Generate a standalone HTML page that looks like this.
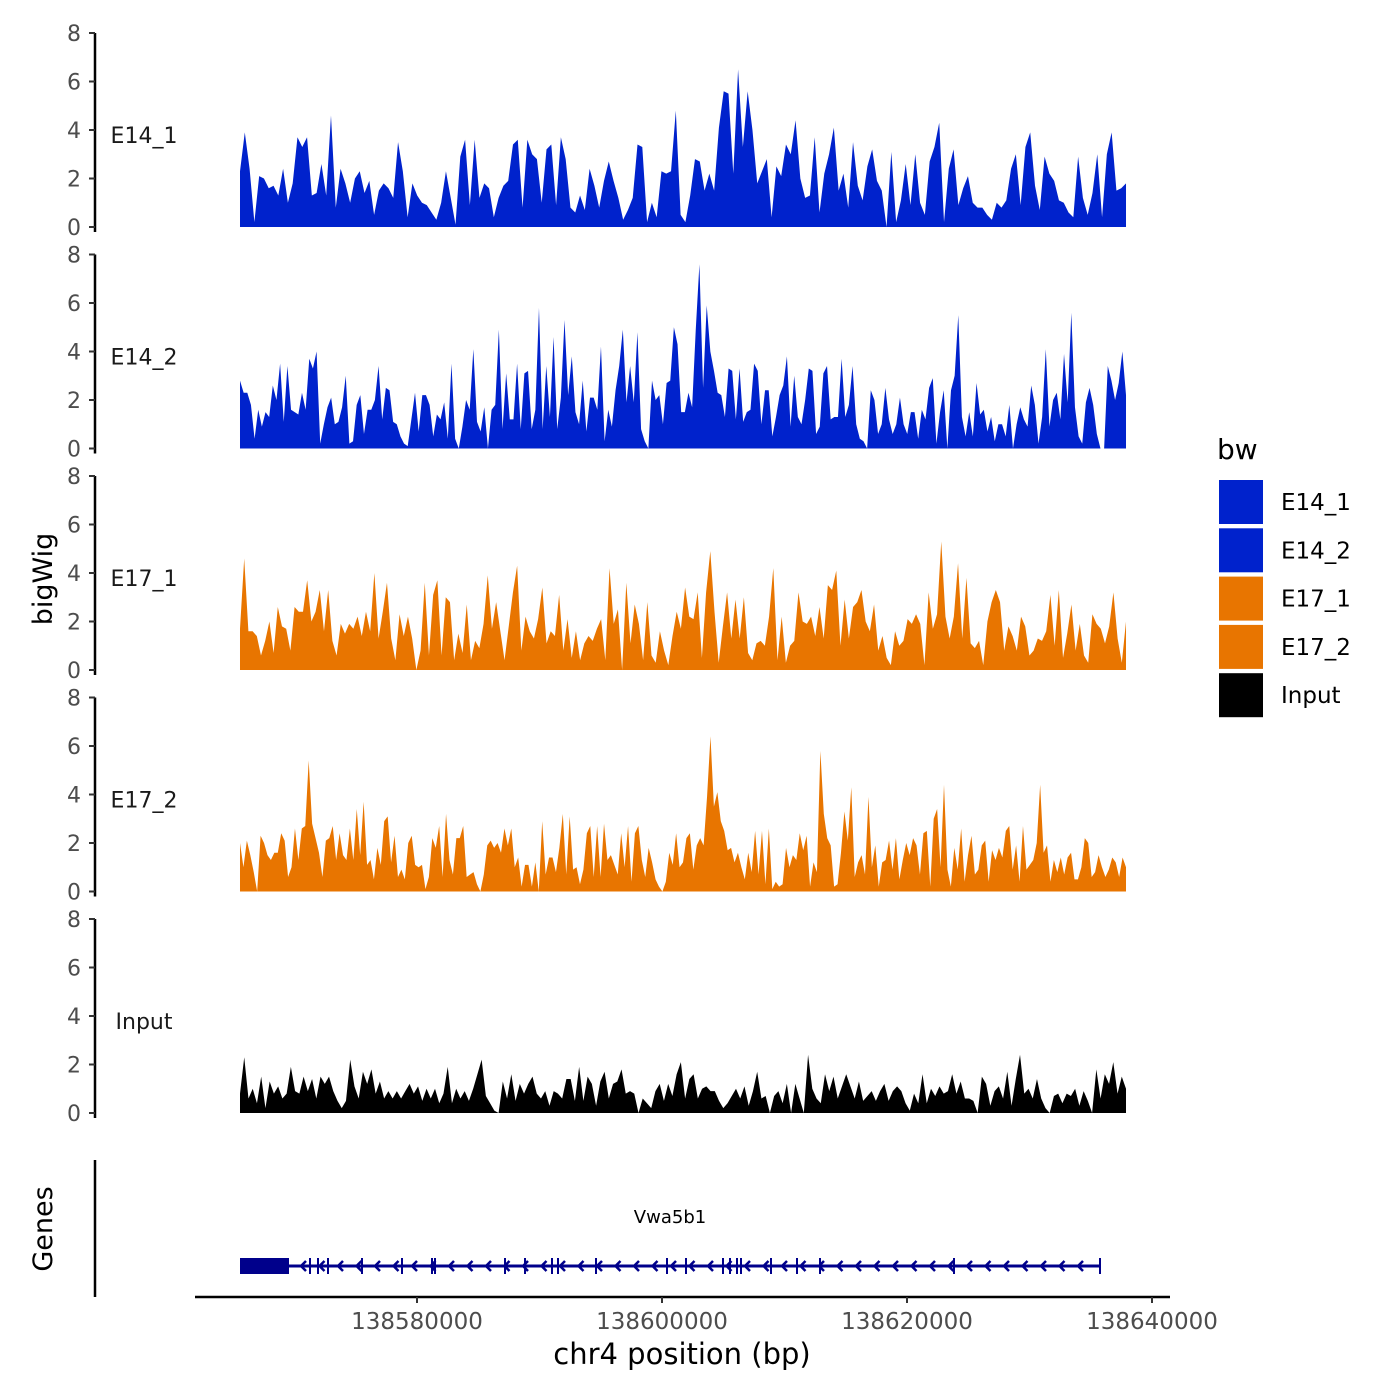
<!DOCTYPE html>
<html><head><meta charset="utf-8"><style>
html,body{margin:0;padding:0;background:#fff}
svg{display:block;font-family:"DejaVu Sans","Liberation Sans",sans-serif}
</style></head><body>
<svg id="chart" width="1400" height="1400" viewBox="0 0 1400 1400" xmlns="http://www.w3.org/2000/svg">
<g id="tracks"></g>
<g id="genes"></g>
<g id="xaxis"></g>
<text x="52" y="579" font-size="27" text-anchor="middle" transform="rotate(-90 52 579)">bigWig</text>
<text x="52" y="1229" font-size="27" text-anchor="middle" transform="rotate(-90 52 1229)">Genes</text>
<text x="682" y="1364" font-size="29" text-anchor="middle">chr4 position (bp)</text>
<g id="legend"></g>
</svg>
<script>
const trackNames = ["E14_1","E14_2","E17_1","E17_2","Input"];
const trackColors = ["#0022cc","#0022cc","#e87500","#e87500","#000000"];
const yTicks = [0,2,4,6,8];
const xTicks = [138580000,138600000,138620000,138640000];
const xStart = 138565551, xEnd = 138637878;
const e14_1 = [2.3,3.9,2.4,0.2,2.1,2.0,1.6,1.7,1.3,2.4,1.0,1.8,3.7,3.3,3.7,1.3,1.4,2.6,1.3,4.6,0.8,2.4,1.8,1.0,2.0,2.3,1.4,1.9,0.5,1.5,1.8,1.6,1.2,3.5,2.3,0.4,1.8,1.3,1.0,0.9,0.6,0.3,1.0,2.3,1.2,0.1,2.9,3.6,0.9,3.6,1.2,1.8,1.6,0.4,1.2,1.7,1.9,3.4,3.6,0.8,3.6,3.0,2.8,1.0,3.2,3.4,0.9,3.7,2.8,0.8,0.6,1.3,0.7,2.4,1.7,0.8,1.9,2.7,1.9,1.2,0.3,0.7,1.2,3.4,3.3,0.2,1.0,0.4,2.3,2.2,2.3,4.8,0.5,0.2,1.3,2.8,2.7,1.5,2.2,1.5,4.1,5.6,5.5,2.2,6.5,3.3,5.6,4.0,1.8,2.3,2.8,0.4,2.5,2.1,3.4,3.0,4.4,2.0,1.2,1.3,3.7,0.6,2.2,3.0,4.1,1.5,2.2,0.8,3.5,1.7,1.1,2.5,3.2,1.9,1.5,0.0,3.1,0.2,1.1,2.6,0.9,3.0,1.0,0.5,2.7,3.3,4.3,0.2,2.4,3.2,0.9,1.6,2.1,1.0,0.8,0.8,0.5,0.3,1.0,0.8,1.1,2.4,3.0,0.9,3.3,3.9,1.7,0.7,2.9,2.2,1.9,1.1,1.0,0.6,0.4,2.9,1.2,0.5,1.4,3.0,0.4,3.0,3.9,1.5,1.6,1.8];
const e14_2 = [2.8,2.3,2.3,1.8,0.4,1.6,0.9,1.5,1.3,2.6,2.0,3.5,1.1,3.4,1.6,1.5,1.4,2.3,1.6,3.7,3.3,4.0,0.2,1.0,1.7,2.1,1.0,1.1,1.7,3.0,0.2,0.3,1.8,2.2,0.6,1.6,1.6,2.0,3.4,1.2,2.5,2.4,1.1,1.0,0.5,0.2,0.1,1.2,2.3,0.7,2.2,2.2,1.8,0.5,1.4,1.2,1.9,0.4,3.5,0.4,0.0,0.9,2.0,1.6,4.1,1.1,0.7,1.7,0.0,1.6,1.8,4.9,0.8,3.1,1.2,1.2,3.5,0.8,3.1,3.2,0.8,1.6,5.8,0.8,3.4,1.3,4.6,0.8,2.1,5.3,2.2,3.8,1.5,1.0,2.8,0.7,2.1,2.1,1.6,4.2,0.3,1.6,0.9,2.4,3.4,4.9,1.9,3.4,1.9,4.8,0.8,0.3,0.0,2.8,2.0,2.2,1.0,2.7,2.8,5.0,4.3,1.5,1.5,2.3,1.7,4.9,7.6,2.5,5.9,4.0,3.2,2.3,2.2,1.3,3.3,3.2,1.2,3.3,1.1,1.5,1.6,3.5,3.2,1.0,2.4,2.4,0.5,1.3,2.2,2.6,3.8,0.9,3.0,1.3,1.0,2.0,3.3,3.2,0.6,0.9,3.1,3.4,1.2,1.3,1.3,3.7,1.3,1.8,3.4,1.0,0.4,0.3,0.0,2.4,2.0,0.6,1.0,2.5,1.2,0.6,1.0,2.1,1.0,0.6,1.5,1.5,0.4,1.6,1.2,2.5,2.9,0.2,1.5,2.4,0.0,2.4,3.0,5.5,1.3,0.5,1.5,0.5,2.7,1.4,1.6,0.7,1.3,0.3,1.0,1.0,0.5,1.8,0.0,1.0,1.7,1.2,0.9,2.6,1.8,0.2,1.3,4.1,0.9,2.0,2.3,1.2,3.9,1.9,5.6,1.7,0.5,0.2,1.9,2.5,1.8,0.6,0.0,0.0,3.4,2.8,2.0,2.7,4.0,2.2];
const e17_1 = [1.7,4.6,1.6,1.6,1.4,0.6,1.2,2.0,0.7,2.6,1.8,1.7,0.8,2.6,2.4,2.4,3.7,2.0,2.4,3.3,1.6,3.3,1.2,0.6,1.9,1.5,1.9,1.7,2.2,1.4,2.4,1.6,4.0,1.3,2.4,3.6,1.3,0.4,2.3,1.4,2.2,1.3,0.0,0.8,3.6,0.6,3.1,3.7,0.6,3.0,2.8,0.4,1.5,0.7,2.7,0.4,1.2,0.9,1.9,3.9,1.7,2.8,1.6,0.4,1.8,3.2,4.3,0.8,2.2,1.6,1.3,2.1,3.4,1.1,1.6,1.4,3.1,0.8,2.1,0.5,1.6,0.4,1.1,1.4,1.2,1.7,2.1,0.4,4.2,1.9,2.5,0.0,3.6,1.1,2.7,1.9,0.4,2.8,0.6,0.3,1.6,0.8,0.2,1.4,2.4,1.7,3.4,2.2,2.1,3.2,0.5,3.2,4.9,2.4,0.3,1.8,3.2,1.3,2.9,1.3,3.0,0.7,0.4,1.1,1.2,1.0,2.2,4.2,0.4,2.2,0.3,1.0,1.2,3.2,2.0,1.9,2.2,1.4,2.6,1.3,3.5,3.3,4.1,1.0,2.9,1.3,2.6,2.8,3.3,2.0,1.6,2.7,0.8,1.4,0.5,0.2,1.6,1.0,1.2,2.1,1.9,2.3,1.9,0.2,3.2,1.7,2.3,5.3,2.2,1.3,2.2,4.4,1.3,3.8,1.1,0.9,1.2,0.2,2.0,2.8,3.3,2.8,0.8,1.8,1.4,0.8,2.2,1.8,0.6,0.8,1.3,1.2,1.6,3.1,1.0,3.3,0.5,1.5,2.7,0.8,1.9,0.6,0.3,2.3,1.9,1.7,1.1,1.8,3.2,1.3,0.3,2.0];
const e17_2 = [2.0,1.0,2.1,1.5,0.8,0.0,2.3,2.0,1.5,1.3,1.6,1.6,2.4,2.1,0.6,1.0,2.6,1.3,2.6,2.7,5.4,2.8,2.2,1.6,0.6,2.1,2.2,2.7,1.3,2.4,1.5,1.3,2.6,1.3,3.4,1.5,3.7,1.1,1.3,0.5,1.8,1.1,2.9,3.1,1.2,2.3,0.6,0.9,0.5,2.0,2.3,1.1,1.0,1.1,0.1,0.6,2.2,1.8,2.7,0.6,3.2,1.3,0.7,2.2,2.2,2.7,0.6,0.7,0.8,0.3,0.0,0.7,1.9,2.1,1.8,2.0,1.6,2.6,1.9,2.6,1.0,1.4,0.2,1.1,1.1,0.2,1.2,0.0,2.9,0.7,1.4,1.4,0.8,1.8,3.2,0.7,3.1,0.9,1.0,0.3,0.9,2.4,2.7,0.6,2.7,0.6,2.8,1.3,1.5,1.1,0.7,2.4,1.0,2.7,0.4,2.4,2.7,1.3,0.6,1.8,1.2,0.5,0.2,0.0,0.4,1.6,1.1,2.4,1.0,1.2,2.2,2.4,0.9,1.9,2.2,1.9,3.9,6.4,3.5,4.1,2.9,2.5,1.7,1.8,1.2,1.6,1.0,0.5,1.6,0.8,2.5,0.7,2.5,0.3,2.6,0.1,0.4,0.2,0.3,1.8,1.0,1.5,1.3,2.4,1.7,2.3,0.2,1.2,0.8,5.8,3.2,2.2,1.9,0.2,0.3,1.6,3.3,2.1,4.3,0.6,1.2,1.5,0.7,3.9,1.0,1.9,0.2,1.2,1.3,2.1,0.9,2.2,0.5,1.3,2.0,1.5,2.2,1.9,0.7,2.4,2.5,0.2,3.0,3.4,1.0,4.4,0.9,0.2,1.8,0.9,2.6,0.4,1.5,2.3,0.7,0.9,1.9,2.1,0.4,1.7,1.3,1.8,1.4,2.5,2.7,0.9,1.9,0.4,2.7,0.9,1.1,1.3,2.0,4.4,1.6,1.9,0.4,1.3,0.8,1.4,0.7,1.4,1.6,0.5,0.5,1.0,2.2,2.0,0.6,0.8,1.5,1.0,0.6,0.9,1.4,1.2,0.6,1.4,1.0];
const inputVals = [0.8,2.3,0.6,1.0,0.4,1.5,0.2,1.3,0.8,1.1,0.6,0.8,1.9,0.9,0.8,1.5,0.9,1.4,0.6,1.5,1.2,1.5,0.9,0.5,0.2,0.5,2.2,1.1,0.6,1.7,1.2,1.8,0.8,1.3,0.6,0.9,0.6,0.9,0.6,0.9,1.2,0.8,1.1,0.5,1.0,0.6,1.0,0.4,0.8,1.9,0.4,1.0,0.6,0.9,0.5,1.0,1.6,2.2,0.7,0.4,0.1,0.0,1.3,0.6,1.6,0.5,1.2,0.8,1.2,1.5,0.8,0.6,0.9,0.3,0.9,0.8,0.6,1.4,1.4,0.5,1.9,0.5,1.5,1.2,0.3,1.3,1.7,0.6,1.2,1.3,1.8,0.8,0.9,0.8,0.0,0.6,0.4,0.2,0.9,1.2,0.5,1.2,0.7,1.6,2.1,0.6,1.4,1.6,0.6,1.0,1.1,0.9,0.9,0.5,0.2,0.4,0.7,1.0,0.6,1.1,0.3,0.9,1.7,0.6,0.7,0.0,0.7,0.9,0.4,1.2,0.0,1.2,0.6,0.0,2.4,1.0,0.6,0.4,1.6,0.9,1.5,0.6,1.1,1.6,1.1,0.6,1.3,0.5,0.7,0.9,0.5,0.9,1.2,0.5,0.9,1.1,0.9,0.4,0.1,0.8,0.4,1.6,0.4,1.0,0.7,1.1,0.8,0.9,1.6,0.8,1.3,0.6,0.6,0.5,0.0,1.5,1.2,0.3,0.9,1.1,0.6,1.7,0.3,1.4,2.4,0.8,1.0,0.6,1.4,0.6,0.2,0.0,0.7,0.8,0.4,0.8,0.7,1.0,0.3,0.9,0.5,0.0,1.8,0.6,1.6,1.2,2.1,0.8,1.5,1.0];
const trackSeries = [e14_1, e14_2, e17_1, e17_2, inputVals];
const geneStart = 138565551, geneEnd = 138635755, thickEnd = 138569551;
const exons = [138571265,138571918,138572735,138575510,138578776,138581224,138581469,138587184,138588816,138591020,138591510,138594612,138600408,138601959,138604980,138605551,138606122,138606449,138608898,138611020,138612898,138623837,138635755];

const NS="http://www.w3.org/2000/svg";
function mk(tag, attrs, parent){const e=document.createElementNS(NS,tag);for(const k in attrs)e.setAttribute(k,attrs[k]);parent.appendChild(e);return e;}
const xScale = v => 417 + (v-138580000)/20000*245;
const trackTop0 = 33, trackH = 194, trackGap = 221.5;
function yScale(t, v){ const base = trackTop0 + trackH + t*trackGap; return base - v/8*trackH; }

const tracksG = document.getElementById('tracks');
trackSeries.forEach((vals, t) => {
  const g = mk('g', {}, tracksG);
  
  
  const n = vals.length;
  const base = yScale(t,0);
  let d = 'M' + xScale(xStart) + ',' + base;
  vals.forEach((v,i) => { const x = xScale(xStart + (xEnd-xStart)*i/(n-1)); d += ' L' + x.toFixed(2) + ',' + yScale(t,v).toFixed(2); });
  d += ' L' + xScale(xEnd) + ',' + base + ' Z';
  const p = mk('path', {d:d, fill:trackColors[t]}, g);
  
  
  const ax = mk('line', {x1:95,x2:95,y1:yScale(t,8),y2:yScale(t,0)+5,stroke:'#000','stroke-width':2.5}, g);
  
  
  yTicks.forEach(v => {
    const y = yScale(t,v);
    const tk = mk('line', {x1:89,x2:95,y1:y,y2:y,stroke:'#333','stroke-width':2}, g);
    
    
    const lb = mk('text', {x:81,y:y+8,'font-size':22,fill:'#4d4d4d','text-anchor':'end'}, g);
    lb.textContent = v;
    
    
  });
  const nm = mk('text', {x:144,y:yScale(t,3.8)+8,'font-size':22,'text-anchor':'middle',fill:'#1a1a1a'}, g);
  nm.textContent = trackNames[t];
  
  
});

// genes
const gg = document.getElementById('genes');
const gax = mk('line', {x1:95,x2:95,y1:1160,y2:1297,stroke:'#000','stroke-width':2.5}, gg);


const gy = 1266;
const gline = mk('line', {x1:xScale(geneStart),x2:xScale(geneEnd),y1:gy,y2:gy,stroke:'#00008b','stroke-width':3}, gg);


const gbox = mk('rect', {x:xScale(geneStart),y:gy-8,width:xScale(thickEnd)-xScale(geneStart),height:16,fill:'#00008b'}, gg);


exons.forEach(e => {
  const x = xScale(e);
  const l = mk('line', {x1:x,x2:x,y1:gy-8,y2:gy+8,stroke:'#00008b','stroke-width':2}, gg);
  
  
});
for (let x = xScale(thickEnd)+12; x < xScale(geneEnd)-5; x += 18.5) {
  const a = mk('path', {d:`M${x+5},${gy-5} L${x},${gy} L${x+5},${gy+5}`,fill:'none',stroke:'#00008b','stroke-width':2.5}, gg);
  
  
}
const gl = mk('text', {x:670,y:1223,'font-size':18,'text-anchor':'middle',fill:'#000'}, gg);
gl.textContent = 'Vwa5b1';



// x axis
const xg = document.getElementById('xaxis');
const xl = mk('line', {x1:195,x2:1170,y1:1297,y2:1297,stroke:'#000','stroke-width':2.5}, xg);


xTicks.forEach(v => {
  const x = xScale(v);
  const t = mk('line', {x1:x,x2:x,y1:1297,y2:1303,stroke:'#333','stroke-width':2}, xg);
  
  
  const lb = mk('text', {x:x,y:1329,'font-size':23,fill:'#4d4d4d','text-anchor':'middle'}, xg);
  lb.textContent = v;
  
  
});

// legend
const lg = document.getElementById('legend');
const lt = mk('text', {x:1217,y:459,'font-size':28,fill:'#000'}, lg);
lt.textContent = 'bw';


trackNames.forEach((n,i) => {
  const y = 480 + i*48.3;
  const g = mk('g', {}, lg);
  
  
  const r = mk('rect', {x:1219,y:y,width:44,height:44,fill:trackColors[i]}, g);
  
  
  const tx = mk('text', {x:1281,y:y+30,'font-size':23,fill:'#000'}, g);
  tx.textContent = n;
  
  
});
</script>
</body></html>
